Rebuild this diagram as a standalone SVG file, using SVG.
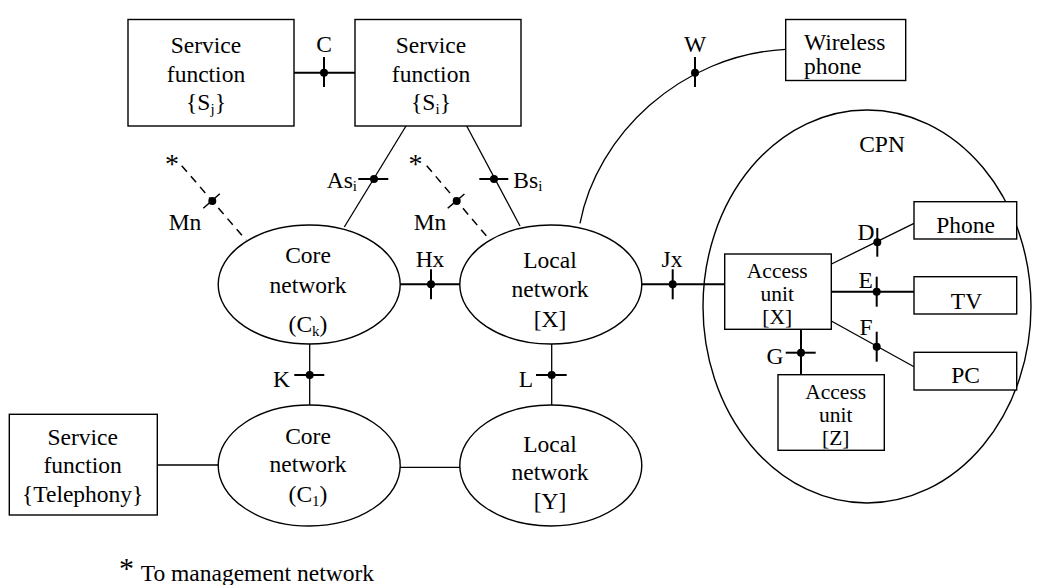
<svg xmlns="http://www.w3.org/2000/svg" width="1037" height="585" viewBox="0 0 1037 585">
<style>
  text { font-family: "Liberation Serif", "Times New Roman", serif; font-size: 23.5px; fill: #000; }
  .m { text-anchor: middle; }
  .e { text-anchor: end; }
  .sub { font-size: 15px; }
  .star { font-size: 28px; }
  .au { font-size: 21.5px; }
  .box { fill: #fff; stroke: #000; stroke-width: 1.4; }
  .ell { fill: none; stroke: #000; stroke-width: 1.4; }
  .thin { fill: none; stroke: #000; stroke-width: 1.3; }
  .thick { fill: none; stroke: #000; stroke-width: 2; }
  .tick { fill: none; stroke: #000; stroke-width: 2; }
  .dash { fill: none; stroke: #000; stroke-width: 1.5; stroke-dasharray: 8 6; }
  .dot { fill: #000; }
</style>
<rect width="1037" height="585" fill="#fff"/>

<g id="connectors">
  <line class="thick" x1="294" y1="72.7" x2="355" y2="72.7"/>
  <line class="tick" x1="324" y1="57" x2="324" y2="87"/>
  <circle class="dot" cx="324" cy="72.7" r="4"/>
  <line class="thin" x1="406" y1="126" x2="344.3" y2="227"/>
  <line class="tick" x1="358.3" y1="179" x2="388.3" y2="179"/>
  <circle class="dot" cx="374" cy="179" r="4"/>
  <line class="thin" x1="466.7" y1="126" x2="520" y2="226"/>
  <line class="tick" x1="479.3" y1="179" x2="508.3" y2="179"/>
  <circle class="dot" cx="494" cy="179" r="4"/>
  <line class="dash" x1="181.7" y1="165.7" x2="246" y2="240"/>
  <line class="dash" x1="203.3" y1="208.3" x2="223.3" y2="190.7" stroke-dasharray="6 4"/>
  <circle class="dot" cx="212.3" cy="201" r="4"/>
  <line class="dash" x1="426.7" y1="165.7" x2="489.3" y2="239.3"/>
  <line class="dash" x1="447.7" y1="208.3" x2="468.3" y2="190.7" stroke-dasharray="6 4"/>
  <circle class="dot" cx="456.7" cy="201" r="4"/>
  <path class="thin" d="M580,223.3 C597,135 680,55 785.7,49.3"/>
  <line class="tick" x1="695" y1="57" x2="695" y2="87"/>
  <circle class="dot" cx="695" cy="72.7" r="4"/>
  <line class="thick" x1="400" y1="284.3" x2="460" y2="284.3"/>
  <line class="tick" x1="431" y1="269.3" x2="431" y2="299.3"/>
  <circle class="dot" cx="431" cy="284.3" r="4"/>
  <line class="thick" x1="641.7" y1="284.3" x2="724.7" y2="284.3"/>
  <line class="tick" x1="672.7" y1="269.3" x2="672.7" y2="299.3"/>
  <circle class="dot" cx="672.7" cy="284.3" r="4"/>
  <line class="thin" x1="309.7" y1="344" x2="309.7" y2="405"/>
  <line class="tick" x1="294.3" y1="375" x2="324.3" y2="375"/>
  <circle class="dot" cx="309.7" cy="375" r="4"/>
  <line class="thin" x1="551.7" y1="344" x2="551.7" y2="405"/>
  <line class="tick" x1="536" y1="375" x2="566.7" y2="375"/>
  <circle class="dot" cx="551.7" cy="375" r="4"/>
  <line class="thin" x1="400" y1="467.3" x2="460" y2="467.3"/>
  <line class="thin" x1="157.3" y1="465" x2="218.3" y2="465"/>
  <line class="thin" x1="831.5" y1="264" x2="914" y2="223.3"/>
  <line class="tick" x1="877.3" y1="228" x2="877.3" y2="256.7"/>
  <circle class="dot" cx="877.3" cy="242.3" r="4"/>
  <line class="thick" x1="831.3" y1="291.7" x2="914" y2="291.7"/>
  <line class="tick" x1="876.7" y1="276.7" x2="876.7" y2="306.7"/>
  <circle class="dot" cx="876.7" cy="291.7" r="4"/>
  <line class="thin" x1="831.3" y1="321" x2="914" y2="366.7"/>
  <line class="tick" x1="876.7" y1="331.7" x2="876.7" y2="361.7"/>
  <circle class="dot" cx="876.7" cy="346.7" r="4"/>
  <line class="thick" x1="801" y1="329.3" x2="801" y2="374.7"/>
  <line class="tick" x1="785.7" y1="352.7" x2="815.7" y2="352.7"/>
  <circle class="dot" cx="801" cy="352.7" r="4"/>
</g>

<g id="labels">
  <text class="m" x="324" y="51.7">C</text>
  <text class="m" x="695" y="51.7">W</text>
  <text class="e" x="357" y="188.3">As<tspan class="sub" dy="3">i</tspan></text>
  <text x="513.3" y="188.3">Bs<tspan class="sub" dy="3">i</tspan></text>
  <text class="m star" x="172" y="172.6">*</text>
  <text class="m star" x="415.5" y="172.6">*</text>
  <text class="m" x="185" y="230">Mn</text>
  <text class="m" x="430" y="230">Mn</text>
  <text class="m" x="430" y="266.7">Hx</text>
  <text class="m" x="672" y="266.7">Jx</text>
  <text class="e" x="290" y="386.7">K</text>
  <text class="e" x="533" y="386.7">L</text>
  <text class="m" x="866" y="240">D</text>
  <text class="m" x="865.7" y="288.3">E</text>
  <text class="m" x="866" y="335">F</text>
  <text class="m" x="775" y="364.3">G</text>
</g>

<g id="service-sj">
  <rect class="box" x="128" y="19.5" width="166" height="106.5"/>
  <text class="m" x="206" y="53.3">Service</text>
  <text class="m" x="206" y="81.7">function</text>
  <text class="m" x="206" y="110">{S<tspan class="sub" dy="4">j</tspan><tspan dy="-4">}</tspan></text>
</g>

<g id="service-si">
  <rect class="box" x="355" y="19.5" width="166" height="106.5"/>
  <text class="m" x="431" y="53.3">Service</text>
  <text class="m" x="431" y="81.7">function</text>
  <text class="m" x="431" y="110">{S<tspan class="sub" dy="4">i</tspan><tspan dy="-4">}</tspan></text>
</g>

<g id="wireless-phone">
  <rect class="box" x="785.7" y="19.5" width="120" height="61"/>
  <text x="804" y="50">Wireless</text>
  <text x="804" y="74">phone</text>
</g>

<g id="cpn">
  <ellipse class="ell" cx="867" cy="306.5" rx="164" ry="196.5"/>
  <text class="m" x="882" y="152">CPN</text>
</g>

<g id="core-ck">
  <ellipse class="ell" cx="309.2" cy="284.5" rx="91" ry="59.5"/>
  <text class="m" x="308" y="263.3">Core</text>
  <text class="m" x="308" y="292.7">network</text>
  <text class="m" x="308" y="331.7">(C<tspan class="sub" dy="4">k</tspan><tspan dy="-4">)</tspan></text>
</g>

<g id="local-x">
  <ellipse class="ell" cx="550.8" cy="284.5" rx="91" ry="59.5"/>
  <text class="m" x="550" y="268.3">Local</text>
  <text class="m" x="550" y="297.2">network</text>
  <text class="m" x="550" y="326.7">[X]</text>
</g>

<g id="core-cl">
  <ellipse class="ell" cx="309.2" cy="465.5" rx="91" ry="60.5"/>
  <text class="m" x="308" y="444">Core</text>
  <text class="m" x="308" y="471.7">network</text>
  <text class="m" x="308" y="501.7">(C<tspan class="sub" dy="4">1</tspan><tspan dy="-4">)</tspan></text>
</g>

<g id="local-y">
  <ellipse class="ell" cx="550.8" cy="465.5" rx="91" ry="60.5"/>
  <text class="m" x="550" y="451.7">Local</text>
  <text class="m" x="550" y="480">network</text>
  <text class="m" x="550" y="509.3">[Y]</text>
</g>

<g id="service-telephony">
  <rect class="box" x="9.3" y="414.3" width="148" height="100.7" stroke-width="2"/>
  <text class="m" x="82.7" y="445">Service</text>
  <text class="m" x="82.7" y="472.7">function</text>
  <text class="m" x="82.7" y="501.7">{Telephony}</text>
</g>

<g id="access-x">
  <rect class="box" x="724.7" y="254" width="106.6" height="75.3"/>
  <text class="m au" x="777.3" y="278.3">Access</text>
  <text class="m au" x="777.3" y="300.7">unit</text>
  <text class="m au" x="777.3" y="323.5">[X]</text>
</g>

<g id="access-z">
  <rect class="box" x="778" y="374.7" width="106.3" height="75.6"/>
  <text class="m au" x="835.7" y="399">Access</text>
  <text class="m au" x="835.7" y="421.7">unit</text>
  <text class="m au" x="835.7" y="444.5">[Z]</text>
</g>

<g id="phone">
  <rect class="box" x="914" y="201.7" width="102.7" height="37.3"/>
  <text class="m" x="965.5" y="233.3">Phone</text>
</g>

<g id="tv">
  <rect class="box" x="914" y="276.7" width="102.7" height="37.3"/>
  <text class="m" x="966.5" y="308.5">TV</text>
</g>

<g id="pc">
  <rect class="box" x="914" y="352.3" width="102.7" height="37.7"/>
  <text class="m" x="965.5" y="383.3">PC</text>
</g>

<g id="footnote">
  <text class="m" x="126.5" y="578" style="font-size:30px">*</text>
  <text x="140.7" y="581">To management network</text>
</g>
</svg>
